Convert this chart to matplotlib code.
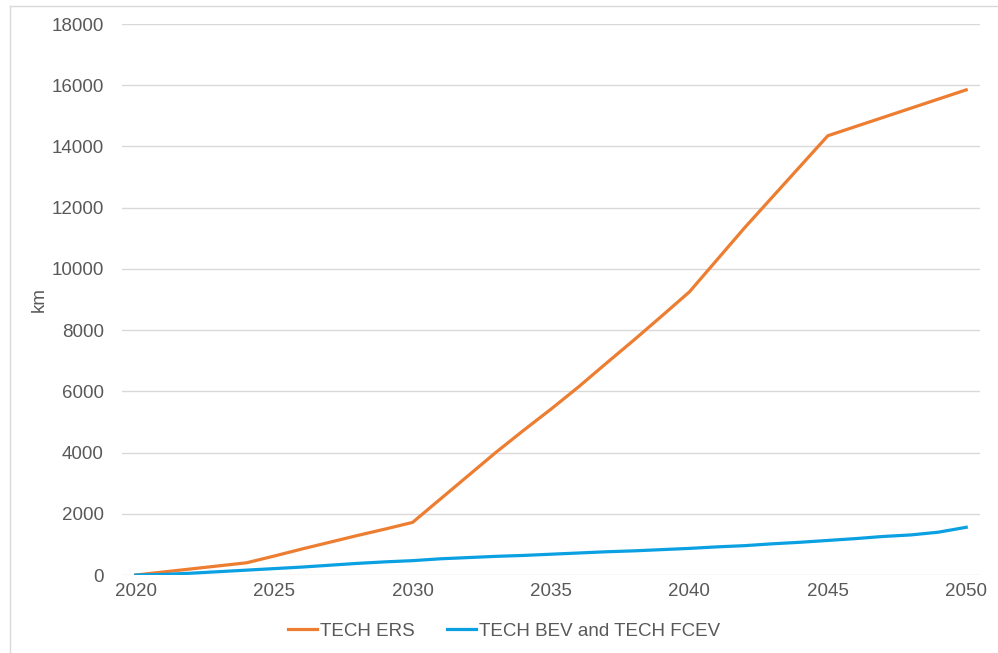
from matplotlib import pyplot as plt
from matplotlib.lines import Line2D
import numpy as np

years = list(range(2020, 2051))
ers = [0, 100, 200, 300, 400, 620, 850, 1070, 1290, 1500,
       1720, 2480, 3240, 4000, 4720, 5420, 6150, 6920, 7680, 8460,
       9250, 10300, 11350, 12350, 13350, 14350, 14650, 14950, 15250, 15550,
       15850]
bev_fcev = [0, 20, 60, 110, 160, 210, 260, 320, 380, 430,
            470, 530, 570, 610, 640, 680, 720, 760, 790, 830,
            870, 920, 960, 1020, 1070, 1130, 1190, 1260, 1310, 1400,
            1560]
series_names = ["TECH ERS", "TECH BEV and TECH FCEV"]
y_ticks = list(range(0, 18001, 2000))
x_ticks = [2020, 2025, 2030, 2035, 2040, 2045, 2050]

plt.rcParams['font.family'] = ['Liberation Sans', 'DejaVu Sans']
text_color = "#595959"
fs = 13.5

fig = plt.figure(figsize=(9.98, 6.53), dpi=100)
ax = fig.add_axes([0.1222, 0.1194, 0.8598, 0.8438])

ax.plot(years, ers, color="#ED7D31", lw=2.3, label=series_names[0], solid_joinstyle="round")
ax.plot(years, bev_fcev, color="#0AA0E2", lw=2.3, label=series_names[1], solid_joinstyle="round")

ax.set_xlim(2019.5, 2050.5)
ax.set_ylim(0, 18000)
ax.set_yticks(y_ticks)
ax.set_xticks(x_ticks)
ax.grid(axis="y", color="#D9D9D9", lw=1)
ax.set_axisbelow(True)
for s in ax.spines.values():
    s.set_visible(False)
ax.tick_params(length=0, labelsize=fs, labelcolor=text_color)
ax.tick_params(axis="y", pad=13)
ax.tick_params(axis="x", pad=6)
ax.set_ylabel("km", fontsize=fs, color=text_color)
ax.yaxis.set_label_coords(-0.087, 0.5)

fig.legend(*ax.get_legend_handles_labels(), loc="center", bbox_to_anchor=(504 / 998, 1 - 631 / 653),
           ncol=2, frameon=False, fontsize=fs, labelcolor=text_color, handlelength=1.55,
           handletextpad=0.15, columnspacing=1.7)

# chart border (left and top visible)
fig.add_artist(Line2D([10 / 998, 10 / 998], [0, 1 - 6 / 653], transform=fig.transFigure, color="#D9D9D9", lw=1))
fig.add_artist(Line2D([10 / 998, 1], [1 - 6 / 653, 1 - 6 / 653], transform=fig.transFigure, color="#D9D9D9", lw=1))

fig.savefig("out.png", dpi=100)
